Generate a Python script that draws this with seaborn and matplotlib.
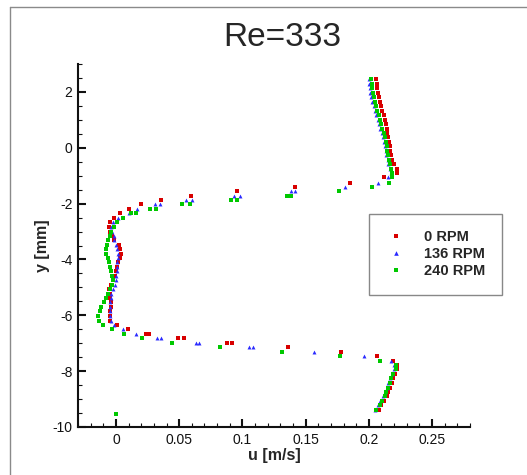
import matplotlib
matplotlib.use("Agg")
import matplotlib.pyplot as plt
import seaborn as sns
import pandas as pd
from matplotlib.lines import Line2D
from matplotlib.ticker import MultipleLocator, FuncFormatter

# ---------------- data ----------------
series_names = ["0 RPM", "136 RPM", "240 RPM"]

y_0rpm = [2.45, 2.29, 2.13, 1.97, 1.81, 1.65, 1.49, 1.33, 1.17, 1.01, 0.85, 0.69, 0.53, 0.37,
          0.21, 0.05, -0.11, -0.27, -0.43, -0.59, -0.75, -0.91, -1.06, -1.25, -1.40, -1.56,
          -1.71, -1.87, -2.03, -2.18, -2.35, -2.51, -2.66, -2.84, -3.01, -3.17, -3.32, -3.47,
          -3.62, -3.79, -3.95, -4.10, -4.28, -4.42, -4.58, -4.75, -4.91, -5.06, -5.23, -5.38,
          -5.54, -5.71, -5.86, -6.02, -6.19, -6.34, -6.50, -6.67, -6.67, -6.82, -6.82, -6.98,
          -6.98, -7.15, -7.31, -7.47, -7.64, -7.78, -7.94, -8.10, -8.26, -8.42, -8.59, -8.74,
          -8.90, -9.06, -9.22, -9.38]
u_0rpm = [0.2057, 0.2062, 0.2068, 0.2073, 0.2078, 0.2089, 0.2097, 0.2107, 0.2118, 0.2128,
          0.2136, 0.2142, 0.2147, 0.2152, 0.2160, 0.2165, 0.2171, 0.2176, 0.2184, 0.2200,
          0.2226, 0.2226, 0.2120, 0.1849, 0.1419, 0.0957, 0.0593, 0.0356, 0.0201, 0.0103,
          0.0035, -0.0016, -0.0044, -0.0058, -0.0050, -0.0028, -0.0018, 0.0024, 0.0035, 0.0037,
          0.0029, 0.0019, 0.0011, -0.0002, -0.0008, -0.0024, -0.0036, -0.0055, -0.0050, -0.0044,
          -0.0036, -0.0036, -0.0044, -0.0050, -0.0044, 0.0008, 0.0095, 0.0235, 0.0261, 0.0490,
          0.0536, 0.0878, 0.0921, 0.1360, 0.1780, 0.2065, 0.2190, 0.2225, 0.2222, 0.2205,
          0.2193, 0.2180, 0.2170, 0.2153, 0.2140, 0.2120, 0.2100, 0.2078]

y_136rpm = [2.45, 2.29, 2.13, 1.97, 1.81, 1.65, 1.49, 1.33, 1.17, 1.01, 0.85, 0.69, 0.53, 0.37,
            0.21, 0.05, -0.11, -0.27, -0.43, -0.59, -0.75, -0.91, -1.06, -1.25, -1.40, -1.56,
            -1.56, -1.71, -1.71, -1.87, -1.87, -2.03, -2.03, -2.18, -2.35, -2.51, -2.66, -2.84,
            -3.01, -3.17, -3.32, -3.47, -3.62, -3.79, -3.95, -4.10, -4.28, -4.42, -4.58, -4.75,
            -4.91, -5.06, -5.23, -5.38, -5.54, -5.71, -5.86, -6.02, -6.19, -6.34, -6.50, -6.67,
            -6.82, -6.82, -6.98, -6.98, -7.15, -7.15, -7.31, -7.47, -7.64, -7.78, -7.94, -8.10,
            -8.26, -8.42, -8.59, -8.74, -8.90, -9.06, -9.22, -9.38]
u_136rpm = [0.1999, 0.2002, 0.2007, 0.2012, 0.2018, 0.2028, 0.2039, 0.2049, 0.2060, 0.2070,
            0.2081, 0.2092, 0.2102, 0.2113, 0.2123, 0.2128, 0.2134, 0.2139, 0.2149, 0.2155,
            0.2165, 0.2176, 0.2150, 0.2073, 0.1809, 0.1385, 0.1415, 0.0937, 0.0979, 0.0557,
            0.0604, 0.0306, 0.0346, 0.0166, 0.0100, 0.0016, -0.0024, -0.0036, -0.0028, -0.0018,
            -0.0016, 0.0003, 0.0008, 0.0016, 0.0016, 0.0008, 0.0008, 0.0008, 0.0003, -0.0002,
            -0.0010, -0.0024, -0.0036, -0.0036, -0.0044, -0.0044, -0.0050, -0.0050, -0.0036,
            -0.0012, 0.0058, 0.0161, 0.0328, 0.0354, 0.0630, 0.0657, 0.1055, 0.1085, 0.1564,
            0.1962, 0.2173, 0.2200, 0.2200, 0.2180, 0.2166, 0.2152, 0.2142, 0.2126, 0.2112,
            0.2092, 0.2072, 0.2045]

y_240rpm = [2.45, 2.29, 2.13, 1.97, 1.81, 1.65, 1.49, 1.33, 1.17, 1.01, 0.85, 0.69, 0.53, 0.37,
            0.21, 0.05, -0.11, -0.27, -0.43, -0.59, -0.75, -0.91, -1.06, -1.25, -1.40, -1.56,
            -1.71, -1.71, -1.87, -1.87, -2.03, -2.03, -2.18, -2.18, -2.35, -2.35, -2.51, -2.66,
            -2.84, -3.01, -3.17, -3.32, -3.47, -3.62, -3.79, -3.95, -4.10, -4.28, -4.42, -4.58,
            -4.75, -4.91, -5.06, -5.23, -5.38, -5.54, -5.71, -5.86, -6.02, -6.19, -6.34, -6.50,
            -6.67, -6.82, -6.98, -7.15, -7.31, -7.47, -7.64, -7.78, -7.94, -8.10, -8.26, -8.42,
            -8.59, -8.74, -8.90, -9.06, -9.22, -9.38, -9.53]
u_240rpm = [0.2020, 0.2023, 0.2028, 0.2033, 0.2039, 0.2047, 0.2057, 0.2068, 0.2078, 0.2089,
            0.2100, 0.2107, 0.2118, 0.2128, 0.2134, 0.2142, 0.2147, 0.2155, 0.2160, 0.2165,
            0.2176, 0.2181, 0.2186, 0.2160, 0.2028, 0.1764, 0.1350, 0.1385, 0.0907, 0.0957,
            0.0525, 0.0583, 0.0267, 0.0314, 0.0116, 0.0156, 0.0055, 0.0008, -0.0018, -0.0036,
            -0.0050, -0.0063, -0.0071, -0.0076, -0.0076, -0.0063, -0.0055, -0.0044, -0.0036,
            -0.0028, -0.0024, -0.0028, -0.0050, -0.0063, -0.0081, -0.0097, -0.0116, -0.0129,
            -0.0142, -0.0137, -0.0103, -0.0028, 0.0063, 0.0206, 0.0446, 0.0820, 0.1310, 0.1775,
            0.2086, 0.2213, 0.2213, 0.2191, 0.2179, 0.2165, 0.2155, 0.2139, 0.2126, 0.2105,
            0.2085, 0.2060, 0.0000]

x_ticks = [0, 0.05, 0.1, 0.15, 0.2, 0.25]
y_ticks = [-10, -8, -6, -4, -2, 0, 2]

title_text = "Re=333"
x_label = "u [m/s]"
y_label = "y [mm]"

# ---------------- styling ----------------
colors = {"0 RPM": "#d80000", "136 RPM": "#2a2aff", "240 RPM": "#00c800"}
markers = {"0 RPM": "s", "136 RPM": "^", "240 RPM": "s"}
sizes = {"0 RPM": 8.5, "136 RPM": 8, "240 RPM": 8.5}

sns.set_style("ticks")
plt.rcParams["font.family"] = ["Liberation Sans", "DejaVu Sans"]

frames = []
for name, u, y in [("0 RPM", u_0rpm, y_0rpm), ("136 RPM", u_136rpm, y_136rpm),
                   ("240 RPM", u_240rpm, y_240rpm)]:
    frames.append(pd.DataFrame({"u": u, "y": y, "series": name}))
df = pd.concat(frames, ignore_index=True)

fig = plt.figure(figsize=(5.27, 4.75), dpi=100)
ax = fig.add_axes([78 / 527, 1 - 427 / 475, (470 - 78) / 527, (427 - 64) / 475])

for name in series_names:
    sub = df[df["series"] == name]
    sns.scatterplot(data=sub, x="u", y="y", ax=ax, color=colors[name],
                    marker=markers[name], s=sizes[name], linewidth=0, legend=False)

ax.set_xlim(-0.03, 0.28)
ax.set_ylim(-10, 3)
ax.set_xticks(x_ticks)
ax.set_yticks(y_ticks)
ax.xaxis.set_minor_locator(MultipleLocator(0.01))
ax.yaxis.set_minor_locator(MultipleLocator(0.5))
ax.xaxis.set_major_formatter(FuncFormatter(lambda v, p: "%g" % round(v, 3)))
ax.yaxis.set_major_formatter(FuncFormatter(lambda v, p: "%g" % v))

for sp in ["top", "right"]:
    ax.spines[sp].set_visible(False)
for sp in ["left", "bottom"]:
    ax.spines[sp].set_linewidth(1.5)
    ax.spines[sp].set_color("#111111")

ax.tick_params(which="major", direction="in", length=6, width=1.5, labelsize=10,
               colors="#111111", pad=4)
ax.tick_params(which="minor", direction="in", length=3, width=0.8, colors="#111111")

ax.set_xlabel(x_label, fontsize=11.5, fontweight="bold", labelpad=1)
ax.set_ylabel(y_label, fontsize=11.5, fontweight="bold", labelpad=2)

fig.text(282 / 527, 1 - 37 / 475, title_text, fontsize=24, ha="center", va="center")

handles = [Line2D([], [], linestyle="none", marker=markers[n], color=colors[n],
                  markersize=3.0 if markers[n] == "s" else 3.3, markeredgewidth=0)
           for n in series_names]
leg = ax.legend(handles, series_names, loc="upper left",
                bbox_to_anchor=(369 / 527, 1 - 214 / 475), bbox_transform=fig.transFigure,
                borderaxespad=0, frameon=True, fancybox=False, framealpha=1,
                edgecolor="#888888", prop={"weight": "bold", "size": 10.5},
                borderpad=1.1, labelspacing=0.22, handletextpad=1.2, handlelength=1.5)
leg.get_frame().set_linewidth(1.0)

# outer frame lines
fig.add_artist(Line2D([10 / 527, 10 / 527], [0, 1 - 7 / 475], transform=fig.transFigure,
                      color="#8a8a8a", lw=1))
fig.add_artist(Line2D([10 / 527, 1], [1 - 7 / 475, 1 - 7 / 475], transform=fig.transFigure,
                      color="#8a8a8a", lw=1))

fig.savefig("out.png", dpi=100)
